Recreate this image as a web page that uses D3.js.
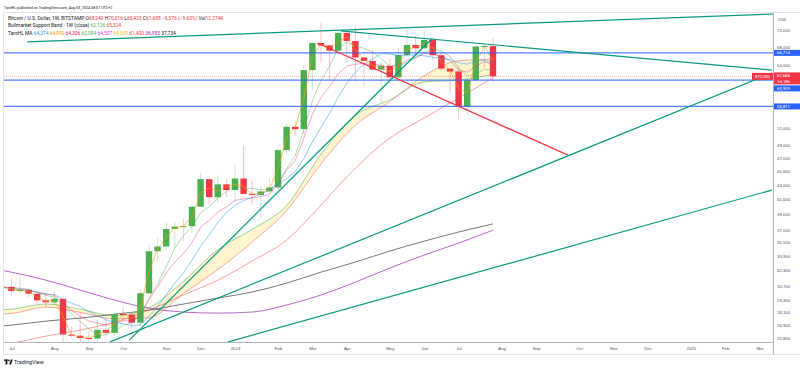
<!DOCTYPE html>
<html lang="en">
<head>
<meta charset="utf-8">
<title>BTCUSD 1W</title>
<script src="https://cdn.jsdelivr.net/npm/d3@7"></script>
<style>
    html, body { margin: 0; background: #ffffff; }
    #chart svg { display: block; font-family: Roboto, "Noto Sans", "DejaVu Sans", sans-serif; }
    #chart text { white-space: pre; }
</style>
</head>
<body>
<div id="chart"></div>
<script>
const WIDTH = 800;
const HEIGHT = 370;

// Weekly candles, BITSTAMP BTCUSD
const weekStarts = [
    '2023-06-26', '2023-07-03', '2023-07-10', '2023-07-17', '2023-07-24', '2023-07-31',
    '2023-08-07', '2023-08-14', '2023-08-21', '2023-08-28', '2023-09-04', '2023-09-11',
    '2023-09-18', '2023-09-25', '2023-10-02', '2023-10-09', '2023-10-16', '2023-10-23',
    '2023-10-30', '2023-11-06', '2023-11-13', '2023-11-20', '2023-11-27', '2023-12-04',
    '2023-12-11', '2023-12-18', '2023-12-25', '2024-01-01', '2024-01-08', '2024-01-15',
    '2024-01-22', '2024-01-29', '2024-02-05', '2024-02-12', '2024-02-19', '2024-02-26',
    '2024-03-04', '2024-03-11', '2024-03-18', '2024-03-25', '2024-04-01', '2024-04-08',
    '2024-04-15', '2024-04-22', '2024-04-29', '2024-05-06', '2024-05-13', '2024-05-20',
    '2024-05-27', '2024-06-03', '2024-06-10', '2024-06-17', '2024-06-24', '2024-07-01',
    '2024-07-08', '2024-07-15', '2024-07-22', '2024-07-29'
];
const openPrices = [
    30470, 30590, 30170, 30290, 29900, 29250,
    29050, 29400, 26100, 26000, 25800, 25750,
    26500, 26250, 27950, 27900, 27150, 29950,
    34450, 35000, 37100, 37400, 37450, 39950,
    43800, 41250, 43050, 42250, 43900, 41700,
    41550, 42050, 42600, 48250, 52150, 51750,
    63000, 68950, 68400, 67200, 71300, 69400,
    65700, 64950, 63100, 63900, 61500, 66250,
    68500, 67750, 69650, 66200, 63300, 62700,
    55811, 60909, 68150, 68240
];
const highPrices = [
    31250, 31500, 31800, 30400, 30000, 30000,
    30200, 29650, 26800, 28150, 26400, 27450,
    27450, 28000, 28600, 28000, 30350, 35200,
    35950, 37950, 37950, 38400, 40250, 44700,
    44100, 44350, 43800, 45900, 49000, 43550,
    42850, 43880, 48600, 52800, 52950, 64000,
    69200, 73800, 68700, 71700, 71500, 72800,
    66900, 67250, 64750, 65500, 67700, 71950,
    70600, 71950, 70150, 66950, 63400, 63800,
    61500, 68400, 69000, 70016
];
const lowPrices = [
    29550, 29700, 29950, 29550, 28900, 28600,
    28700, 25200, 25800, 25350, 25350, 24900,
    26000, 26000, 27200, 26550, 26800, 29850,
    33400, 34500, 34800, 35650, 36700, 39950,
    40200, 40500, 41300, 40750, 41500, 40300,
    38500, 41800, 42250, 47700, 50600, 50900,
    59000, 64600, 60800, 66600, 64500, 60650,
    59600, 62800, 56500, 60200, 60700, 66000,
    66600, 67500, 65050, 62900, 58400, 53500,
    54300, 60800, 63500, 60433
];
const closePrices = [
    30590, 30170, 30290, 29900, 29250, 29050,
    29400, 26100, 26000, 25800, 25750, 26500,
    26250, 27950, 27900, 27150, 29950, 34450,
    35000, 37100, 37400, 37450, 39950, 43800,
    41250, 43050, 42250, 43900, 41700, 41550,
    42050, 42600, 48250, 52150, 51750, 63000,
    68950, 68400, 67200, 71300, 69400, 65700,
    64950, 63100, 63900, 61500, 66250, 68500,
    67750, 69650, 66200, 63300, 62700, 55811,
    60909, 68150, 68264, 61688
];
const lastVolumeK = 12.274;

// Longer averages, every four weeks
const sampleWeeks = [
    '2023-06-26', '2023-07-03', '2023-07-31', '2023-08-28', '2023-09-25', '2023-10-23',
    '2023-11-20', '2023-12-18', '2024-01-15', '2024-02-12', '2024-03-11', '2024-04-08',
    '2024-05-06', '2024-06-03', '2024-07-01', '2024-07-29'
];
const bandEma21 = [28350, 28400, 28900, 28400, 27800, 28540, 31170, 34630, 37060, 40110, 47580, 54150, 57040, 60560, 60900, 62126];
const bandSma20 = [27950, 28000, 28600, 28100, 27500, 27600, 29930, 32410, 35520, 39450, 46080, 52410, 56680, 61820, 64970, 65324];
const ma30Samples = [25300, 25370, 25960, 26490, 27200, 28310, 29770, 31290, 33340, 35750, 40180, 45450, 50230, 53700, 57400, 61400];
const ma100Samples = [32300, 32130, 31290, 30270, 29270, 28500, 28130, 28030, 28130, 28800, 29770, 31080, 32570, 34010, 35400, 36955];
const ma200Samples = [26850, 26930, 27290, 27570, 27930, 28310, 28890, 29470, 30070, 30980, 32130, 33230, 34470, 35630, 36720, 37734];
const maLegendValues = [64374, 64890, 64306, 62984, 64507, 64500, 61400, 36955, 37734];

// Drawings
const levelPrices = [66714, 60909, 55811];
const tealTrendLines = [
    [['2023-07-16', 69200], ['2025-04-05', 76200]],
    [['2024-03-27', 71800], ['2025-03-13', 63000]],
    [['2023-10-07', 25620], ['2024-06-09', 69870]],
    [['2023-09-21', 25450], ['2025-03-13', 62390]],
    [['2023-12-26', 25450], ['2025-03-13', 42240]]
];
const redTrendLines = [
    [['2024-03-08', 68950], ['2024-09-28', 47460]]
];

// Axes
const priceTicks = [72000, 68000, 64000, 52000, 49000, 47000, 45000, 43000, 41000, 39000, 37000,
    35500, 33900, 32300, 30700, 29300, 28100, 26900, 25800];
const monthTicks = [
    '2023-07-03', '2023-08-07', '2023-09-04', '2023-10-02', '2023-11-06', '2023-12-04', '2024-01-01',
    '2024-02-05', '2024-03-04', '2024-04-01', '2024-05-06', '2024-06-03', '2024-07-01', '2024-08-05',
    '2024-09-02', '2024-10-07', '2024-11-04', '2024-12-02', '2025-01-06', '2025-02-03', '2025-03-03'
];
const monthLabels = ['Jul', 'Aug', 'Sep', 'Oct', 'Nov', 'Dec', '2024', 'Feb', 'Mar', 'Apr', 'May', 'Jun',
    'Jul', 'Aug', 'Sep', 'Oct', 'Nov', 'Dec', '2025', 'Feb', 'Mar'];

const UP_COLOR = '#4caf50';
const DOWN_COLOR = '#f23645';
const TEAL = '#089981';
const LEVEL_BLUE = '#2962ff';
const TEXT_COLOR = '#131722';
const AXIS_TEXT = '#50535e';
const BORDER = '#e0e3eb';

const PLOT = { left: 4, top: 13, right: 773, bottom: 342 };

const parseWeek = d3.utcParse('%Y-%m-%d');
const fmt = d3.format(',');

function simpleAverage(values, period) {
    return values.map((_, i) => d3.mean(values.slice(Math.max(0, i - period + 1), i + 1)));
}

function exponentialAverage(values, period) {
    const k = 2 / (period + 1);
    let prev = values[0];
    return values.map(v => (prev = prev + k * (v - prev)));
}

class BitcoinWeeklyChart {

    init() {
        this.svg = d3.select('#chart').append('svg')
            .attr('width', WIDTH)
            .attr('height', HEIGHT)
            .attr('viewBox', [0, 0, WIDTH, HEIGHT]);
        this.candles = weekStarts.map((w, i) => ({
            date: parseWeek(w), open: openPrices[i], high: highPrices[i], low: lowPrices[i], close: closePrices[i]
        }));
        this.initScales();
        this.drawFrame();
        this.plot = this.createPlotLayer();
        this.drawSupportBand();
        this.drawSampledAverages();
        this.drawCandles();
        this.drawComputedAverages();
        this.drawLevels();
        this.drawTrendLines();
        this.drawPriceAxis();
        this.drawTimeAxis();
        this.drawPriceLabels();
        this.drawLegend();
        this.drawFooter();
    }

    initScales() {
        const first = this.candles[0].date;
        const last = this.candles[this.candles.length - 1].date;
        this.x = d3.scaleUtc().domain([first, last]).range([2.8, 493]);
        this.y = d3.scaleLog().domain([25800, 72000]).range([338, 30]);
    }

    drawFrame() {
        const g = this.svg.append('g').attr('class', 'frame');
        g.append('rect')
            .attr('x', 0).attr('y', 0).attr('width', WIDTH).attr('height', HEIGHT)
            .attr('fill', '#ffffff');
        g.append('rect')
            .attr('x', PLOT.left - 0.5).attr('y', PLOT.top - 0.5)
            .attr('width', WIDTH - PLOT.left + 1).attr('height', 354 - PLOT.top + 1)
            .attr('fill', 'none').attr('stroke', BORDER);
        g.append('line')
            .attr('x1', PLOT.right + 0.5).attr('x2', PLOT.right + 0.5)
            .attr('y1', PLOT.top).attr('y2', 354)
            .attr('stroke', '#b2b5be');
        g.append('line')
            .attr('x1', PLOT.left).attr('x2', PLOT.right)
            .attr('y1', PLOT.bottom + 0.5).attr('y2', PLOT.bottom + 0.5)
            .attr('stroke', '#b2b5be');
    }

    createPlotLayer() {
        this.svg.append('defs').append('clipPath').attr('id', 'plot-clip')
            .append('rect')
            .attr('x', PLOT.left).attr('y', PLOT.top)
            .attr('width', PLOT.right - PLOT.left).attr('height', PLOT.bottom - PLOT.top);
        return this.svg.append('g').attr('clip-path', 'url(#plot-clip)');
    }

    sampledSeries(values) {
        return sampleWeeks.map((w, i) => ({ date: parseWeek(w), value: values[i] }));
    }

    linePath(curve) {
        return d3.line()
            .x(d => this.x(d.date))
            .y(d => this.y(d.value))
            .curve(curve || d3.curveLinear);
    }

    addSeriesLine(series, color, opacity, width, curve) {
        this.plot.append('path')
            .datum(series)
            .attr('d', this.linePath(curve))
            .attr('fill', 'none')
            .attr('stroke', color)
            .attr('stroke-opacity', opacity)
            .attr('stroke-width', width || 1);
    }

    drawSupportBand() {
        const rows = sampleWeeks.map((w, i) => ({ date: parseWeek(w), a: bandEma21[i], b: bandSma20[i] }));
        const area = d3.area()
            .x(d => this.x(d.date))
            .y0(d => this.y(d.a))
            .y1(d => this.y(d.b))
            .curve(d3.curveMonotoneX);
        this.plot.append('path')
            .datum(rows)
            .attr('d', area)
            .attr('fill', '#ffe98a')
            .attr('fill-opacity', 0.4);
        this.addSeriesLine(this.sampledSeries(bandEma21), '#4caf50', 0.55, 1, d3.curveMonotoneX);
        this.addSeriesLine(this.sampledSeries(bandSma20), '#f44336', 0.45, 1, d3.curveMonotoneX);
    }

    drawSampledAverages() {
        this.addSeriesLine(this.sampledSeries(ma200Samples), '#5d606b', 0.85, 1, d3.curveMonotoneX);
        this.addSeriesLine(this.sampledSeries(ma100Samples), '#9c27b0', 0.7, 1, d3.curveMonotoneX);
        this.addSeriesLine(this.sampledSeries(ma30Samples), '#f44336', 0.5, 1, d3.curveMonotoneX);
    }

    drawComputedAverages() {
        const withDates = values => values.map((v, i) => ({ date: this.candles[i].date, value: v }));
        this.addSeriesLine(withDates(simpleAverage(closePrices, 10)), '#2196f3', 0.5);
        this.addSeriesLine(withDates(exponentialAverage(closePrices, 8)), '#e91e63', 0.4);
        this.addSeriesLine(withDates(simpleAverage(closePrices, 5)), '#4caf50', 0.45);
        this.addSeriesLine(withDates(simpleAverage(closePrices, 2)), '#ff9800', 0.6);
    }

    drawCandles() {
        const g = this.plot.append('g').attr('class', 'candles');
        const color = d => (d.close >= d.open ? UP_COLOR : DOWN_COLOR);
        g.selectAll('line.wick')
            .data(this.candles)
            .join('line')
            .attr('class', 'wick')
            .attr('x1', d => this.x(d.date))
            .attr('x2', d => this.x(d.date))
            .attr('y1', d => this.y(d.high))
            .attr('y2', d => this.y(d.low))
            .attr('stroke', color)
            .attr('stroke-opacity', 0.3);
        g.selectAll('rect.body')
            .data(this.candles)
            .join('rect')
            .attr('class', 'body')
            .attr('x', d => this.x(d.date) - 3.2)
            .attr('width', 6.4)
            .attr('y', d => this.y(Math.max(d.open, d.close)))
            .attr('height', d => Math.max(1, Math.abs(this.y(d.open) - this.y(d.close))))
            .attr('fill', color);
    }

    drawLevels() {
        const g = this.plot.append('g').attr('class', 'levels');
        g.selectAll('line.level')
            .data(levelPrices)
            .join('line')
            .attr('class', 'level')
            .attr('x1', PLOT.left).attr('x2', PLOT.right)
            .attr('y1', d => this.y(d)).attr('y2', d => this.y(d))
            .attr('stroke', LEVEL_BLUE)
            .attr('stroke-opacity', 0.8)
            .attr('stroke-width', 1.3);
        const last = closePrices[closePrices.length - 1];
        g.append('line')
            .attr('x1', PLOT.left).attr('x2', PLOT.right)
            .attr('y1', this.y(last)).attr('y2', this.y(last))
            .attr('stroke', DOWN_COLOR)
            .attr('stroke-opacity', 0.35)
            .attr('stroke-dasharray', '1,1');
    }

    drawTrendLines() {
        const g = this.plot.append('g').attr('class', 'trend-lines');
        const toPoint = ([w, price]) => [this.x(parseWeek(w)), this.y(price)];
        const draw = (lines, color, width) => {
            g.selectAll(null)
                .data(lines)
                .join('line')
                .attr('x1', d => toPoint(d[0])[0]).attr('y1', d => toPoint(d[0])[1])
                .attr('x2', d => toPoint(d[1])[0]).attr('y2', d => toPoint(d[1])[1])
                .attr('stroke', color)
                .attr('stroke-width', width);
        };
        draw(tealTrendLines, TEAL, 1.2);
        draw(redTrendLines, DOWN_COLOR, 1.3);
    }

    drawPriceAxis() {
        const axis = d3.axisRight(this.y)
            .tickValues(priceTicks)
            .tickFormat(fmt)
            .tickSize(0)
            .tickPadding(4);
        const g = this.svg.append('g')
            .attr('transform', `translate(${PLOT.right},0)`)
            .call(axis);
        g.select('.domain').remove();
        g.selectAll('text')
            .attr('font-size', 4.3)
            .attr('font-family', null)
            .attr('fill', AXIS_TEXT);
        this.svg.append('text')
            .attr('x', 778).attr('y', 19).attr('dy', '0.35em')
            .attr('font-size', 4.3).attr('fill', AXIS_TEXT)
            .text('USD');
    }

    drawTimeAxis() {
        const axis = d3.axisBottom(this.x)
            .tickValues(monthTicks.map(parseWeek))
            .tickFormat((d, i) => monthLabels[i])
            .tickSize(0)
            .tickPadding(4.5);
        const g = this.svg.append('g')
            .attr('transform', `translate(0,${PLOT.bottom})`)
            .call(axis);
        g.select('.domain').remove();
        g.selectAll('text')
            .attr('font-size', 4.3)
            .attr('font-family', null)
            .attr('fill', AXIS_TEXT);
    }

    addAxisBox(yTop, height, color, lines) {
        const g = this.svg.append('g');
        g.append('rect')
            .attr('x', PLOT.right + 1).attr('y', yTop)
            .attr('width', WIDTH - PLOT.right - 1).attr('height', height)
            .attr('fill', color);
        lines.forEach((t, i) => {
            g.append('text')
                .attr('x', 777).attr('y', yTop + 3 + i * 6).attr('dy', '0.35em')
                .attr('font-size', 4.3).attr('fill', '#ffffff')
                .text(t);
        });
    }

    drawPriceLabels() {
        const last = closePrices[closePrices.length - 1];
        const yLast = this.y(last);
        const currentBox = { top: yLast - 4, bottom: yLast + 8 };

        // blue level labels, pushed away from the current price box
        const boxes = levelPrices.map(p => ({ price: p, top: this.y(p) - 3 }))
            .sort((a, b) => a.top - b.top);
        boxes.forEach(b => {
            if (b.top < currentBox.bottom + 1 && b.top + 6 > currentBox.top) {
                b.top = b.top < yLast - 3 ? currentBox.top - 7 : currentBox.bottom + 1;
            }
        });
        boxes.forEach(b => this.addAxisBox(b.top, 6, LEVEL_BLUE, [fmt(b.price)]));
        this.addAxisBox(currentBox.top, currentBox.bottom - currentBox.top, DOWN_COLOR, [fmt(last), '1d 18h']);

        const tag = this.svg.append('g');
        tag.append('rect')
            .attr('x', 752).attr('y', yLast - 3.5)
            .attr('width', PLOT.right - 752).attr('height', 7)
            .attr('fill', DOWN_COLOR);
        tag.append('text')
            .attr('x', 762.5).attr('y', yLast).attr('dy', '0.35em')
            .attr('text-anchor', 'middle')
            .attr('font-size', 4).attr('fill', '#ffffff')
            .text('BTCUSD');
    }

    drawLegendRow(y, parts, size) {
        const text = this.svg.append('text')
            .attr('x', 8).attr('y', y).attr('dy', '0.35em')
            .attr('font-size', size);
        parts.forEach(([content, color]) => text.append('tspan').attr('fill', color).text(content));
    }

    drawLegend() {
        const n = closePrices.length - 1;
        const change = closePrices[n] - closePrices[n - 1];
        const pct = change / closePrices[n - 1] * 100;
        const minus = v => (v < 0 ? '\u2212' : '') + fmt(Math.abs(Math.round(v)));
        const trend = change < 0 ? DOWN_COLOR : UP_COLOR;

        this.svg.append('text')
            .attr('x', 4).attr('y', 7.5).attr('dy', '0.35em')
            .attr('font-size', 3.7).attr('fill', TEXT_COLOR)
            .text('TaroHL published on TradingView.com, Aug 03, 2024 08:07 UTC+2');

        this.drawLegendRow(18, [
            ['Bitcoin / U.S. Dollar, 1W, BITSTAMP ', TEXT_COLOR],
            ['O', TEXT_COLOR], [fmt(openPrices[n]), trend],
            [' H', TEXT_COLOR], [fmt(highPrices[n]), trend],
            [' L', TEXT_COLOR], [fmt(lowPrices[n]), trend],
            [' C', TEXT_COLOR], [fmt(closePrices[n]), trend],
            [` ${minus(change)} (${pct < 0 ? '\u2212' : ''}${Math.abs(pct).toFixed(2)}%)`, trend],
            [' Vol', TEXT_COLOR], [`${lastVolumeK.toFixed(3)}K`, trend]
        ], 4.9);

        this.drawLegendRow(25.5, [
            ['Bullmarket Support Band \u00b7 1W (close) ', TEXT_COLOR],
            [fmt(bandEma21[bandEma21.length - 1]), '#4caf50'],
            [' ' + fmt(bandSma20[bandSma20.length - 1]), '#f44336']
        ], 4.9);

        const maColors = ['#2196f3', '#ff9800', '#e91e63', '#4caf50', '#e040fb', '#f5c400', '#f44336', '#9c27b0', TEXT_COLOR];
        this.drawLegendRow(33, [['TaroHL MA', TEXT_COLOR]]
            .concat(maLegendValues.map((v, i) => [' ' + fmt(v), maColors[i]])), 4.9);
    }

    drawFooter() {
        const g = this.svg.append('g').attr('fill', TEXT_COLOR);
        g.append('rect').attr('x', 4).attr('y', 359.5).attr('width', 3.6).attr('height', 1.4);
        g.append('rect').attr('x', 5.6).attr('y', 359.5).attr('width', 1.8).attr('height', 5);
        g.append('circle').attr('cx', 8.8).attr('cy', 360.3).attr('r', 0.9);
        g.append('path').attr('d', 'M9.2,364.5L10.9,359.5L12.7,359.5L11,364.5Z');
        g.append('text')
            .attr('x', 14).attr('y', 362).attr('dy', '0.35em')
            .attr('font-size', 5.4)
            .text('TradingView');
    }
}

new BitcoinWeeklyChart().init();
</script>
</body>
</html>
